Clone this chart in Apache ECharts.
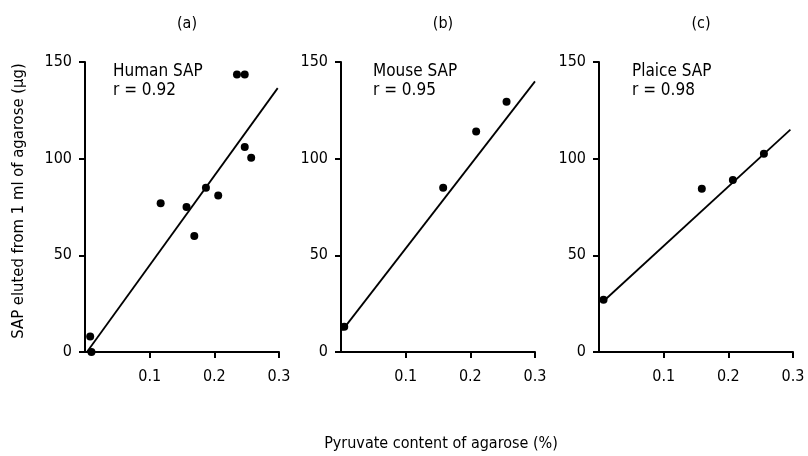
<!DOCTYPE html>
<html>
<head>
<meta charset="utf-8">
<script src="https://cdn.jsdelivr.net/npm/echarts@6/dist/echarts.min.js"></script>
<style>html,body{margin:0;padding:0;background:#fff}#c{width:808px;height:456px}</style>
</head>
<body>
<div id="c"></div>
<script>
// Panel (a) Human SAP
const humanX = [0.008, 0.010, 0.117, 0.157, 0.169, 0.187, 0.206, 0.235, 0.247, 0.247, 0.257];
const humanY = [8, 0, 77, 75, 60, 85, 81, 143.5, 143.5, 106, 100.5];
const humanFitX = [0.003, 0.298];
const humanFitY = [0, 136.5];
// Panel (b) Mouse SAP
const mouseX = [0.005, 0.158, 0.209, 0.256];
const mouseY = [13, 85, 114, 129.5];
const mouseFitX = [0.002, 0.300];
const mouseFitY = [11.2, 140];
// Panel (c) Plaice SAP
const plaiceX = [0.007, 0.159, 0.207, 0.255];
const plaiceY = [27, 84.5, 89, 102.5];
const plaiceFitX = [0.006, 0.296];
const plaiceFitY = [26, 115];

const panelTitles = ['(a)', '(b)', '(c)'];
const panelNames = ['Human SAP', 'Mouse SAP', 'Plaice SAP'];
const panelR = ['r = 0.92', 'r = 0.95', 'r = 0.98'];
const xTicks = [0, 0.1, 0.2, 0.3];
const yTicks = [0, 50, 100, 150];
const yTitle = 'SAP eluted from 1 ml of agarose (\u00b5g)';
const xTitle = 'Pyruvate content of agarose (%)';

const FONT = '"Liberation Sans Narrow", "DejaVu Sans Condensed", "Liberation Sans", sans-serif';
const zip = (a, b) => a.map((v, i) => [v, b[i]]);

const lefts = [85, 341, 599];
const W = 194, TOP = 62, H = 290;

const grids = lefts.map(l => ({ left: l, top: TOP, width: W, height: H }));
const axisCommon = {
  axisLine: { show: true, onZero: false, lineStyle: { color: '#000', width: 2 } },
  axisTick: { show: true, inside: false, length: 6, lineStyle: { color: '#000', width: 2 } },
  splitLine: { show: false },
  axisLabel: { color: '#000', fontFamily: FONT, fontSize: 16 }
};
const xAxes = lefts.map((l, i) => Object.assign({}, axisCommon, {
  type: 'value', gridIndex: i, min: xTicks[0], max: xTicks[xTicks.length - 1], interval: 0.1,
  axisLabel: Object.assign({}, axisCommon.axisLabel, { margin: 17, showMinLabel: false,
    formatter: v => (Math.round(v * 10) / 10).toFixed(1) })
}));
const yAxes = lefts.map((l, i) => Object.assign({}, axisCommon, {
  type: 'value', gridIndex: i, min: yTicks[0], max: yTicks[yTicks.length - 1], interval: 50,
  axisLabel: Object.assign({}, axisCommon.axisLabel, { margin: 13 })
}));

const sets = [
  [humanX, humanY, humanFitX, humanFitY],
  [mouseX, mouseY, mouseFitX, mouseFitY],
  [plaiceX, plaiceY, plaiceFitX, plaiceFitY]
];
const series = [];
sets.forEach((s, i) => {
  series.push({ type: 'line', xAxisIndex: i, yAxisIndex: i, data: zip(s[2], s[3]),
    symbol: 'none', clip: false, lineStyle: { color: '#000', width: 1.8 }, silent: true, z: 2 });
  series.push({ type: 'scatter', xAxisIndex: i, yAxisIndex: i, data: zip(s[0], s[1]),
    symbolSize: 8, itemStyle: { color: '#000', opacity: 1 }, z: 3 });
});

const titleCenters = lefts.map(l => l + W / 2);
const titles = [];
panelTitles.forEach((t, i) => titles.push({ text: t, left: titleCenters[i], top: 11, textAlign: 'center',
  textStyle: { fontFamily: FONT, fontSize: 16, fontWeight: 'normal', color: '#000' } }));
const annotLeft = [108, 368, 627];
panelNames.forEach((t, i) => titles.push({ text: t + '\n' + panelR[i], left: annotLeft[i], top: 57,
  textStyle: { fontFamily: FONT, fontSize: 17, fontWeight: 'normal', color: '#000', lineHeight: 19 } }));

const chart = echarts.init(document.getElementById('c'), null, { renderer: 'canvas' });
chart.setOption({
  animation: false,
  backgroundColor: '#fff',
  title: titles,
  grid: grids,
  xAxis: xAxes,
  yAxis: yAxes,
  series: series,
  graphic: [
    { type: 'text', x: 19, y: 201, rotation: Math.PI / 2,
      style: { text: yTitle, fontFamily: FONT, fontSize: 16.5, fill: '#000', align: 'center', verticalAlign: 'middle' } },
    { type: 'text', x: 441, y: 444,
      style: { text: xTitle, fontFamily: FONT, fontSize: 16, fill: '#000', align: 'center', verticalAlign: 'middle' } }
  ]
});
</script>
</body>
</html>
